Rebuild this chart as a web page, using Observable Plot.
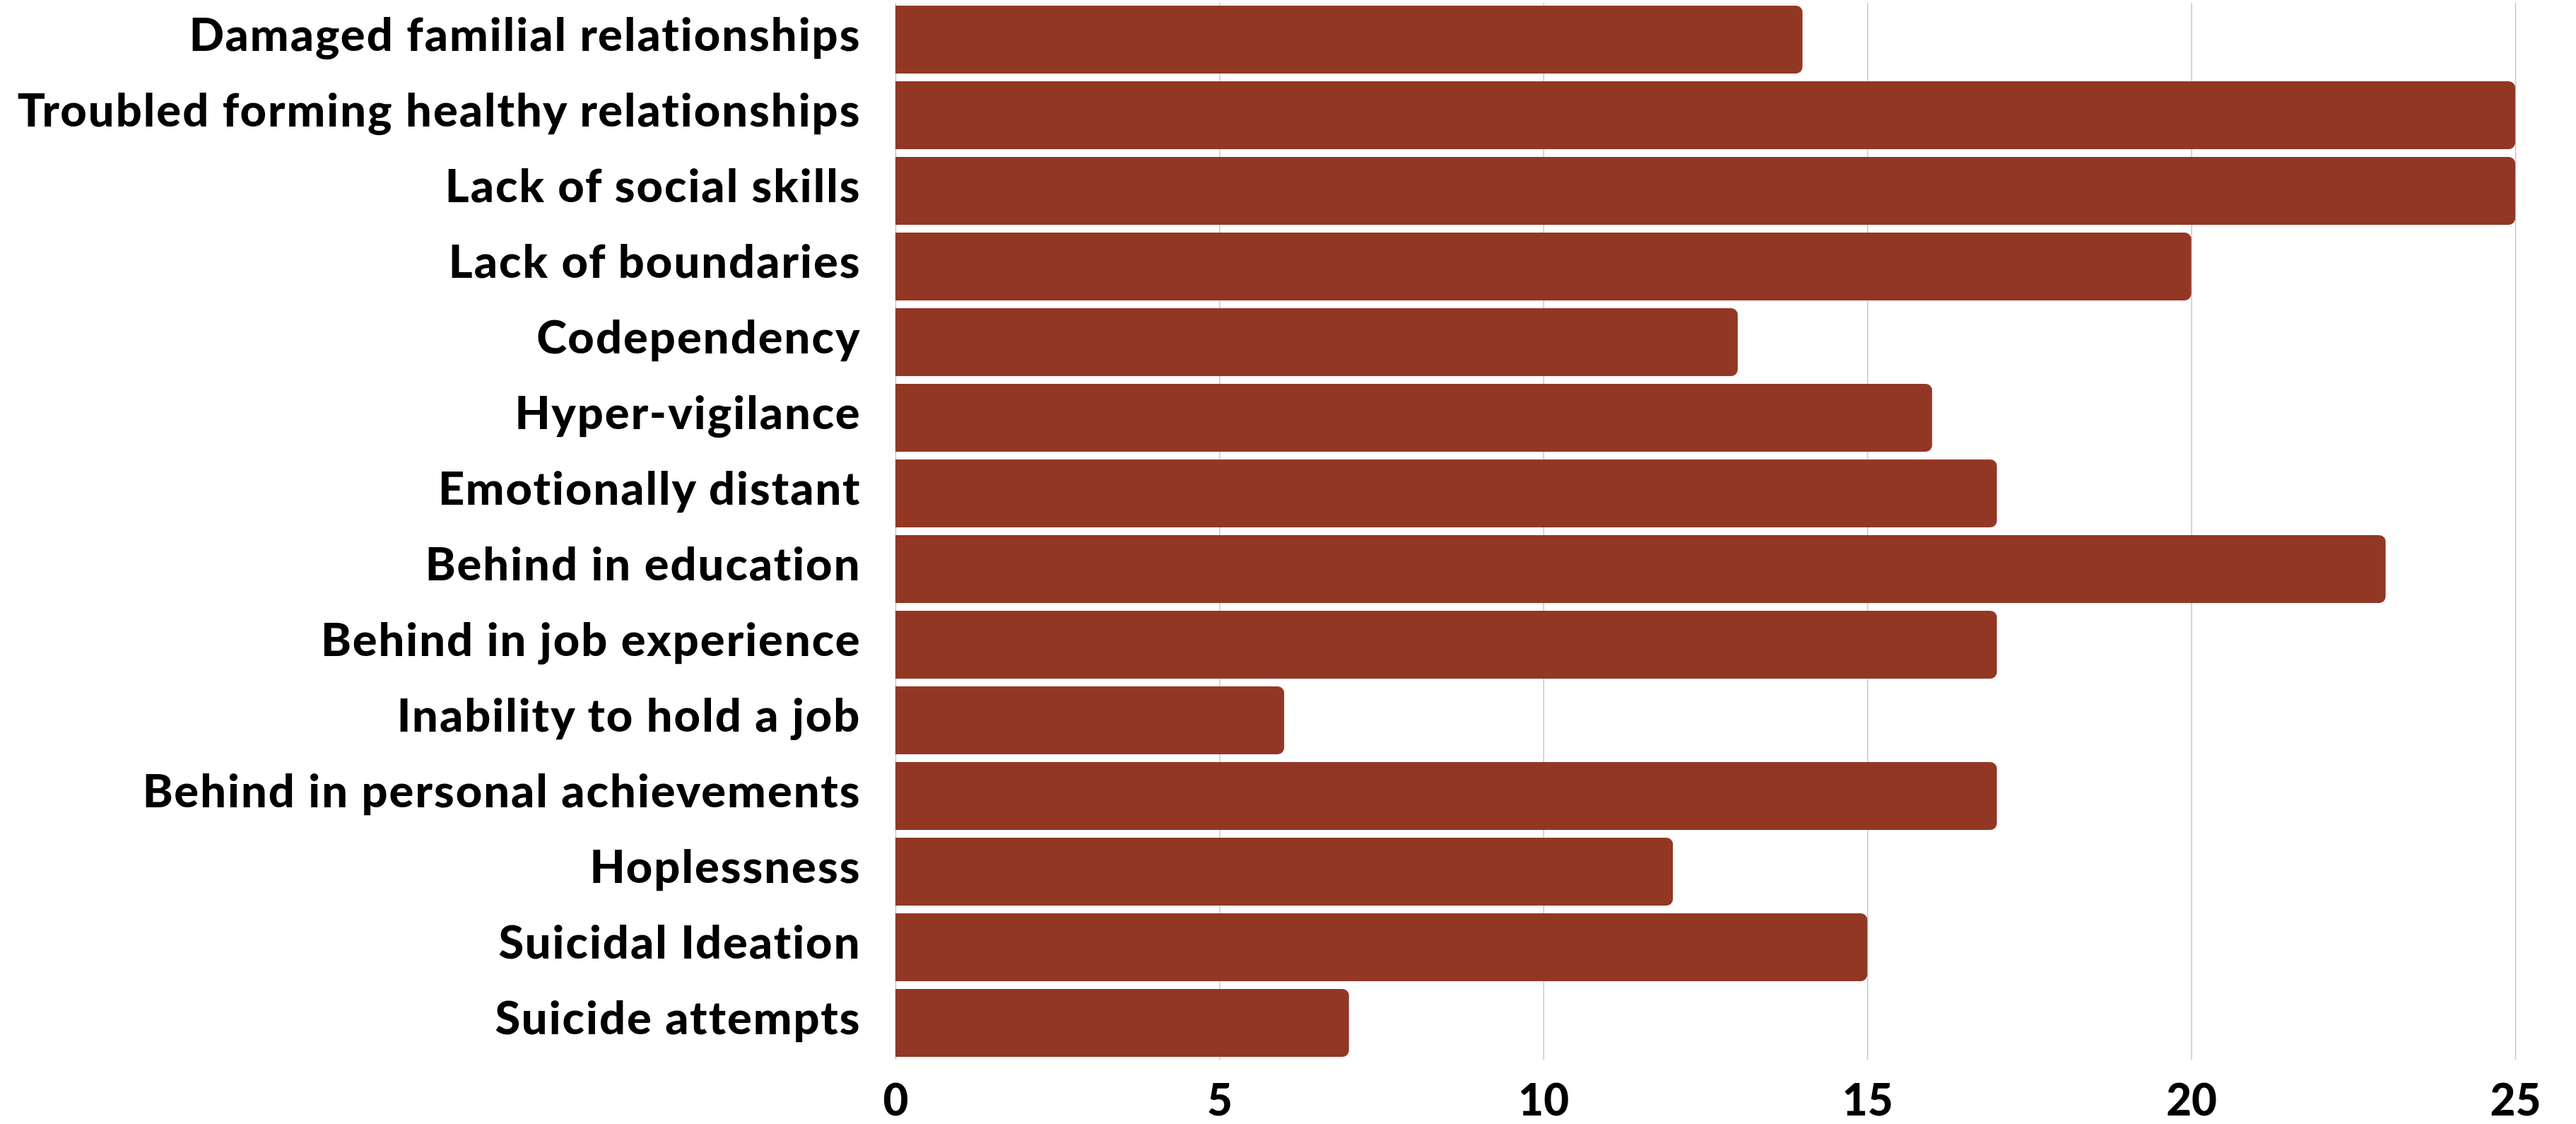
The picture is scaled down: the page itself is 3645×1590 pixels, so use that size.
<!DOCTYPE html>
<html>
<head>
<meta charset="utf-8">
<script src="https://cdn.jsdelivr.net/npm/d3@7"></script>
<script src="https://cdn.jsdelivr.net/npm/@observablehq/plot@0.6"></script>
<style>
  html, body { margin: 0; padding: 0; background: #ffffff; }
  #chart svg { display: block; font-variant-ligatures: none; }
  #chart g[aria-label="y-axis tick label"] text { letter-spacing: 2px; }
</style>
</head>
<body>
<div id="chart"></div>
<script>
const categories = [
  "Damaged familial relationships",
  "Troubled forming healthy relationships",
  "Lack of social skills",
  "Lack of boundaries",
  "Codependency",
  "Hyper-vigilance",
  "Emotionally distant",
  "Behind in education",
  "Behind in job experience",
  "Inability to hold a job",
  "Behind in personal achievements",
  "Hoplessness",
  "Suicidal Ideation",
  "Suicide attempts"
];
const counts = [14, 25, 25, 20, 13, 16, 17, 23, 17, 6, 17, 12, 15, 7];
const xTicks = [0, 5, 10, 15, 20, 25];

const data = categories.map((c, i) => ({category: c, count: counts[i]}));

const chart = Plot.plot({
  width: 3645,
  height: 1590,
  marginTop: 4,
  marginBottom: 91,
  marginLeft: 1267,
  marginRight: 86,
  style: {fontFamily: "Lato, 'Open Sans', sans-serif", fontWeight: 900, background: "#ffffff", color: "#000000"},
  x: {domain: [0, 25], ticks: xTicks, label: null},
  y: {domain: categories, paddingInner: 0.1, paddingOuter: 0, label: null},
  marks: [
    Plot.gridX(xTicks, {stroke: "#c8c8c8", strokeOpacity: 1, strokeWidth: 1.5}),
    Plot.barX(data, {x: "count", y: "category", fill: "#933725", rx2: 9}),
    Plot.axisX(xTicks, {tickSize: 0, tickPadding: 34, fontSize: 62, fontWeight: 900, label: null}),
    Plot.axisY({tickSize: 0, tickPadding: 49, fontSize: 65, fontWeight: 900, dy: -5, label: null})
  ]
});
document.getElementById("chart").appendChild(chart);
</script>
</body>
</html>
